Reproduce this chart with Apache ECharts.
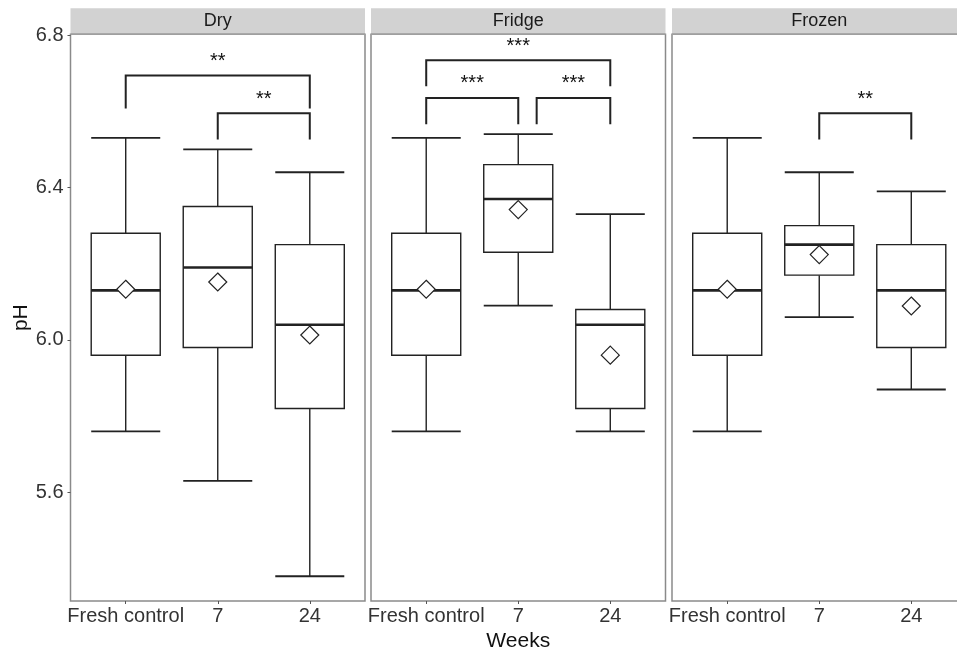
<!DOCTYPE html>
<html>
<head>
<meta charset="utf-8">
<script src="https://cdn.jsdelivr.net/npm/echarts@6/dist/echarts.min.js"></script>
<style>
  html, body { margin: 0; padding: 0; background: #fff; }
  #chart { width: 957px; height: 650px; }
</style>
</head>
<body>
<div id="chart"></div>
<script>
// x categories (same in every panel) and facet names
var categories = ['Fresh control', '7', '24'];
var panelNames = ['Dry', 'Fridge', 'Frozen'];
var yTicks = [5.6, 6.0, 6.4, 6.8];

// box stats per category: [lower whisker, Q1, median, Q3, upper whisker]
var dryBox    = [[5.76, 5.96, 6.13, 6.28, 6.53], [5.63, 5.98, 6.19, 6.35, 6.50], [5.38, 5.82, 6.04, 6.25, 6.44]];
var fridgeBox = [[5.76, 5.96, 6.13, 6.28, 6.53], [6.09, 6.23, 6.37, 6.46, 6.54], [5.76, 5.82, 6.04, 6.08, 6.33]];
var frozenBox = [[5.76, 5.96, 6.13, 6.28, 6.53], [6.06, 6.17, 6.25, 6.30, 6.44], [5.87, 5.98, 6.13, 6.25, 6.39]];

// group means (hollow diamonds)
var dryMean    = [6.133, 6.152, 6.013];
var fridgeMean = [6.133, 6.342, 5.960];
var frozenMean = [6.133, 6.224, 6.089];

// significance brackets: [from, to, bracket top, leg end, label]
var dryBrackets    = [[1, 3, 6.694, 6.607, '**'], [2, 3, 6.595, 6.526, '**']];
var fridgeBrackets = [[1, 3, 6.734, 6.666, '***'], [1, 2, 6.635, 6.566, '***'], [2.2, 3, 6.635, 6.566, '***']];
var frozenBrackets = [[2, 3, 6.595, 6.526, '**']];

var boxes = [dryBox, fridgeBox, frozenBox];
var means = [dryMean, fridgeMean, frozenMean];
var brackets = [dryBrackets, fridgeBrackets, frozenBrackets];

var panelLeft = [70.5, 371, 672];
var panelWidth = 294.5;
var panelTop = 34.3;
var panelHeight = 566.7;
var lineColor = '#222';
var font = 'Liberation Sans, Arial, sans-serif';

var chart = echarts.init(document.getElementById('chart'));

function renderBox(params, api) {
    var x = api.value(0);
    var half = 0.375;
    var lo = api.coord([x, api.value(1)]);
    var q1 = api.coord([x, api.value(2)]);
    var med = api.coord([x, api.value(3)]);
    var q3 = api.coord([x, api.value(4)]);
    var hi = api.coord([x, api.value(5)]);
    var xl = api.coord([x - half, api.value(3)])[0];
    var xr = api.coord([x + half, api.value(3)])[0];
    var st = { stroke: lineColor, lineWidth: 1.4 };
    return {
        type: 'group',
        children: [
            { type: 'line', shape: { x1: lo[0], y1: lo[1], x2: q1[0], y2: q1[1] }, style: st },
            { type: 'line', shape: { x1: q3[0], y1: q3[1], x2: hi[0], y2: hi[1] }, style: st },
            { type: 'line', shape: { x1: xl, y1: lo[1], x2: xr, y2: lo[1] }, style: { stroke: lineColor, lineWidth: 1.8 } },
            { type: 'line', shape: { x1: xl, y1: hi[1], x2: xr, y2: hi[1] }, style: { stroke: lineColor, lineWidth: 1.8 } },
            { type: 'rect', shape: { x: xl, y: q3[1], width: xr - xl, height: q1[1] - q3[1] },
              style: { fill: '#fff', stroke: lineColor, lineWidth: 1.4 } },
            { type: 'line', shape: { x1: xl, y1: med[1], x2: xr, y2: med[1] }, style: { stroke: lineColor, lineWidth: 2.6 } }
        ]
    };
}

function makeBracketRenderer(p) {
    return function (params, api) {
        var b = brackets[p][params.dataIndex];
        var a1 = api.coord([b[0], b[3]]);
        var t1 = api.coord([b[0], b[2]]);
        var t2 = api.coord([b[1], b[2]]);
        var a2 = api.coord([b[1], b[3]]);
        return {
            type: 'group',
            children: [
                { type: 'polyline', shape: { points: [a1, t1, t2, a2] },
                  style: { stroke: lineColor, lineWidth: 2, fill: null } },
                { type: 'text', x: (t1[0] + t2[0]) / 2, y: t1[1] - 14,
                  style: { text: b[4], fill: '#111', font: '20px ' + font, align: 'center', verticalAlign: 'middle' } }
            ]
        };
    };
}

var grids = [], xAxes = [], yAxes = [], series = [], graphics = [];

for (var p = 0; p < 3; p++) {
    grids.push({
        left: panelLeft[p], top: panelTop, width: panelWidth, height: panelHeight,
        outerBoundsMode: 'none', containLabel: false,
        show: true, borderColor: '#8a8a8a', borderWidth: 1.5, backgroundColor: 'transparent'
    });
    xAxes.push({
        type: 'value', gridIndex: p, min: 0.4, max: 3.6,
        splitLine: { show: false },
        axisLine: { show: false },
        axisTick: { show: true, customValues: [1, 2, 3], length: 3, lineStyle: { color: '#555' } },
        axisLabel: {
            customValues: [1, 2, 3], margin: 5, fontSize: 20, color: '#333', fontFamily: font,
            formatter: function (v) { return categories[Math.round(v) - 1]; }
        },
        name: p === 1 ? 'Weeks' : '', nameLocation: 'middle', nameGap: 23,
        nameTextStyle: { fontSize: 21, color: '#111', fontFamily: font }
    });
    yAxes.push({
        type: 'value', gridIndex: p, min: 5.315, max: 6.802,
        splitLine: { show: false },
        axisLine: { show: false },
        axisTick: { show: p === 0, customValues: yTicks, length: 3, lineStyle: { color: '#555' } },
        axisLabel: {
            show: p === 0, customValues: yTicks, margin: 7, fontSize: 20, color: '#333', fontFamily: font,
            formatter: function (v) { return v.toFixed(1); }
        },
        name: p === 0 ? 'pH' : '', nameLocation: 'middle', nameGap: 36,
        nameTextStyle: { fontSize: 21, color: '#111', fontFamily: font }
    });

    series.push({
        type: 'custom', xAxisIndex: p, yAxisIndex: p, z: 2,
        renderItem: renderBox,
        data: boxes[p].map(function (s, i) { return [i + 1].concat(s); })
    });
    series.push({
        type: 'scatter', xAxisIndex: p, yAxisIndex: p, z: 3,
        symbol: 'diamond', symbolSize: 18,
        itemStyle: { color: '#fff', borderColor: lineColor, borderWidth: 1.2, opacity: 1 },
        data: means[p].map(function (m, i) { return [i + 1, m]; })
    });
    series.push({
        type: 'custom', xAxisIndex: p, yAxisIndex: p, z: 4,
        renderItem: makeBracketRenderer(p),
        data: brackets[p].map(function (b) { return [b[0], b[2]]; })
    });

    // facet strip
    graphics.push({
        type: 'rect', left: panelLeft[p], top: 8.3,
        shape: { width: panelWidth, height: 26 },
        style: { fill: '#d2d2d2' }
    });
    graphics.push({
        type: 'rect', left: panelLeft[p], top: 33,
        shape: { width: panelWidth, height: 1.3 },
        style: { fill: '#a9a9a9' }
    });
    graphics.push({
        type: 'text', x: panelLeft[p] + panelWidth / 2, y: 21.5,
        style: { text: panelNames[p], fill: '#1a1a1a', font: '18px ' + font, align: 'center', verticalAlign: 'middle' }
    });
}

chart.setOption({
    animation: false,
    backgroundColor: '#fff',
    grid: grids,
    xAxis: xAxes,
    yAxis: yAxes,
    series: series,
    graphic: graphics
});
</script>
</body>
</html>
